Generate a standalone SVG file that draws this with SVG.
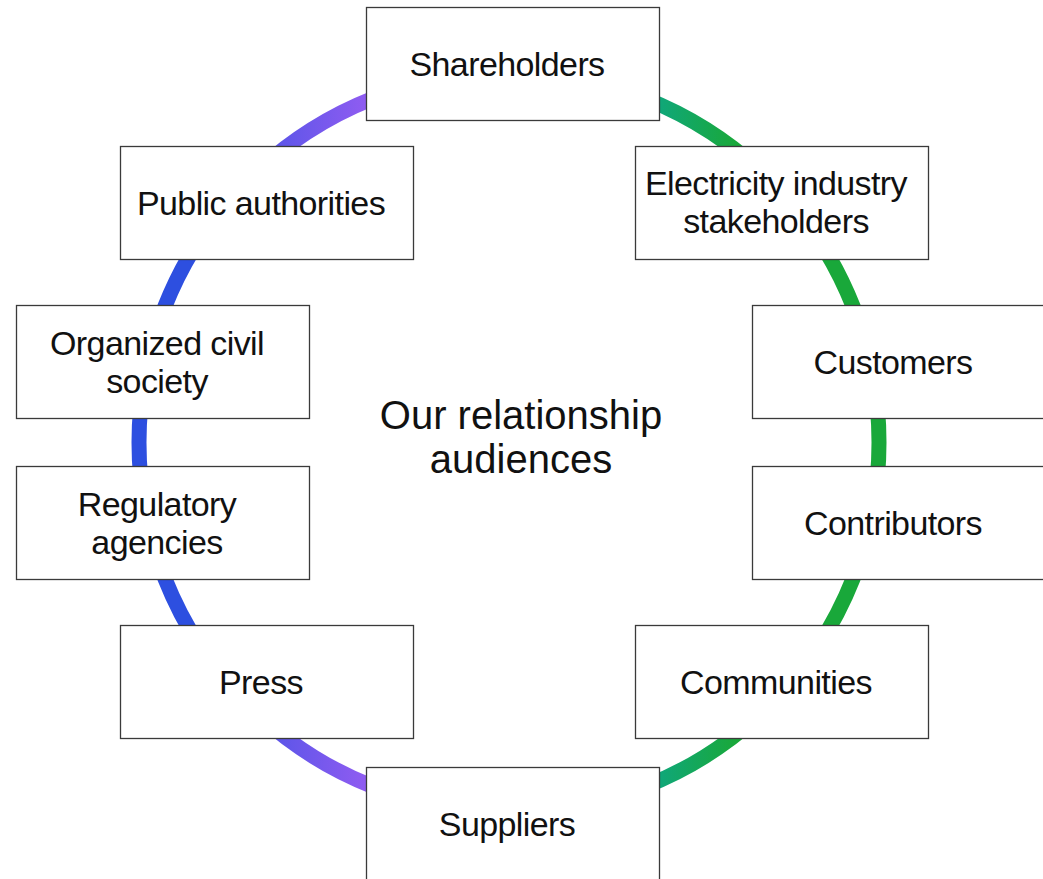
<svg xmlns="http://www.w3.org/2000/svg" width="1043" height="879" viewBox="0 0 1043 879">
  <defs>
    <linearGradient id="ring" gradientUnits="userSpaceOnUse" x1="131" y1="0" x2="887" y2="0">
      <stop offset="0.08" stop-color="#2d4fe0"/>
      <stop offset="0.31" stop-color="#8f5cf1"/>
      <stop offset="0.69" stop-color="#0fa77e"/>
      <stop offset="0.8" stop-color="#19a83a"/>
    </linearGradient>
    <style>
      .box{fill:#ffffff;stroke:#3a3a3a;stroke-width:1.3}
      .lbl{font-family:"Liberation Sans",Arial,sans-serif;font-size:34px;letter-spacing:-0.6px;fill:#111111;text-anchor:middle}
      .title{font-family:"Liberation Sans",Arial,sans-serif;font-size:40px;fill:#111111;text-anchor:middle}
    </style>
  </defs>
  <rect x="0" y="0" width="1043" height="879" fill="#ffffff"/>
  <g id="connectors">
    <circle cx="509" cy="442.5" r="370" fill="none" stroke="url(#ring)" stroke-width="15"/>
  </g>
  <g id="center">
    <text class="title" x="521" y="429">Our relationship</text>
    <text class="title" x="521" y="473">audiences</text>
  </g>
  <g id="shareholders">
    <rect class="box" x="366.5" y="7.5" width="293" height="113"/>
    <text class="lbl" x="507" y="76">Shareholders</text>
  </g>
  <g id="public-authorities">
    <rect class="box" x="120.5" y="146.5" width="293" height="113"/>
    <text class="lbl" x="261" y="215">Public authorities</text>
  </g>
  <g id="electricity-industry">
    <rect class="box" x="635.5" y="146.5" width="293" height="113"/>
    <text class="lbl" x="776" y="195">Electricity industry</text>
    <text class="lbl" x="776" y="233">stakeholders</text>
  </g>
  <g id="organized-civil-society">
    <rect class="box" x="16.5" y="305.5" width="293" height="113"/>
    <text class="lbl" x="157" y="354.5">Organized civil</text>
    <text class="lbl" x="157" y="392.5">society</text>
  </g>
  <g id="customers">
    <rect class="box" x="752.5" y="305.5" width="293" height="113"/>
    <text class="lbl" x="893" y="374">Customers</text>
  </g>
  <g id="regulatory-agencies">
    <rect class="box" x="16.5" y="466.5" width="293" height="113"/>
    <text class="lbl" x="157" y="515.5">Regulatory</text>
    <text class="lbl" x="157" y="553.5">agencies</text>
  </g>
  <g id="contributors">
    <rect class="box" x="752.5" y="466.5" width="293" height="113"/>
    <text class="lbl" x="893" y="535">Contributors</text>
  </g>
  <g id="press">
    <rect class="box" x="120.5" y="625.5" width="293" height="113"/>
    <text class="lbl" x="261" y="694">Press</text>
  </g>
  <g id="communities">
    <rect class="box" x="635.5" y="625.5" width="293" height="113"/>
    <text class="lbl" x="776" y="694">Communities</text>
  </g>
  <g id="suppliers">
    <rect class="box" x="366.5" y="767.5" width="293" height="113"/>
    <text class="lbl" x="507" y="836">Suppliers</text>
  </g>
</svg>
